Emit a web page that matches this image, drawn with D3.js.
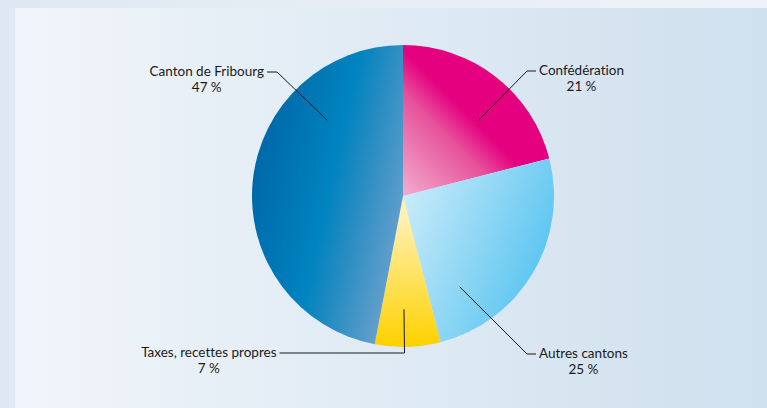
<!DOCTYPE html>
<html>
<head>
<meta charset="utf-8">
<script src="https://cdn.jsdelivr.net/npm/d3@7"></script>
<style>
  html, body { margin: 0; padding: 0; }
  svg { display: block; }
  text { font-family: Lato, "Open Sans", sans-serif; font-size: 13.5px; fill: #1a1a1a; font-variant-ligatures: none; }
</style>
</head>
<body>
<svg id="chart" width="767" height="408"></svg>
<script>
// Financing shares (percent)
const categories = ["Confédération", "Autres cantons", "Taxes, recettes propres", "Canton de Fribourg"];
const shares = [21, 25, 7, 47];

// Leader-line layout per slice: anchor (angle in degrees clockwise from top, radius fraction),
// elbow offset from the pie centre, horizontal run length and side.
const leaderAngle = [45, 148, 179.5, 315];
const leaderRadius = [0.71, 0.71, 0.75, 0.71];
const elbowOffset = [[124, -125], [124, 158], [1.5, 157], [-126, -124]];
const runLength = [9, 9, -125, -10];

const width = 767, height = 408;
const cx = 403, cy = 196, radius = 151;

const svg = d3.select("#chart");
const defs = svg.append("defs");

// Background: outer frame and inner panel gradients
const frameGrad = defs.append("linearGradient").attr("id", "frame")
  .attr("x1", "0").attr("x2", "1").attr("y1", "0").attr("y2", "0");
frameGrad.append("stop").attr("offset", "0").attr("stop-color", "#dfe8f2");
frameGrad.append("stop").attr("offset", "1").attr("stop-color", "#eef3f8");

const panelGrad = defs.append("linearGradient").attr("id", "panel")
  .attr("x1", "0").attr("x2", "1").attr("y1", "0").attr("y2", "0");
panelGrad.append("stop").attr("offset", "0").attr("stop-color", "#f0f5fa");
panelGrad.append("stop").attr("offset", "1").attr("stop-color", "#cfe0ee");

svg.append("rect").attr("width", width).attr("height", height).attr("fill", "url(#frame)");
svg.append("rect").attr("x", 15).attr("y", 8).attr("width", width - 15).attr("height", height - 8)
  .attr("fill", "url(#panel)");

// Slice gradients, in the pie group's coordinates (origin at the pie centre)
const sliceGradients = [
  { id: "g0", p1: [-8, 18], p2: [100, -90], stops: [[0, "#f6c4da"], [0.6, "#e6529b"], [0.8, "#e4007f"], [1, "#e4007f"]] },
  { id: "g1", p1: [5, -10], p2: [150, 50], stops: [[0, "#c9ebfa"], [1, "#5cc5f0"]] },
  { id: "g2", p1: [0, 20], p2: [0, 150], stops: [[0, "#fff1b4"], [1, "#ffd100"]] },
  { id: "g3", p1: [-150, -30], p2: [5, 5], stops: [[0, "#0068a9"], [0.5, "#0084bf"], [0.65, "#1f8ac1"], [1, "#649fcc"]] }
];
sliceGradients.forEach(g => {
  const lg = defs.append("linearGradient").attr("id", g.id)
    .attr("gradientUnits", "userSpaceOnUse")
    .attr("x1", g.p1[0]).attr("y1", g.p1[1])
    .attr("x2", g.p2[0]).attr("y2", g.p2[1]);
  g.stops.forEach(s => lg.append("stop").attr("offset", s[0]).attr("stop-color", s[1]));
});

const data = categories.map((c, i) => ({ name: c, value: shares[i], i }));

const pie = d3.pie().value(d => d.value).sort(null);
const arc = d3.arc().innerRadius(0).outerRadius(radius);

const g = svg.append("g").attr("transform", `translate(${cx},${cy})`);
g.selectAll("path.slice")
  .data(pie(data))
  .join("path")
  .attr("class", "slice")
  .attr("d", arc)
  .attr("fill", d => `url(#${sliceGradients[d.data.i].id})`);

// Leader lines and labels
const rad = d3.scaleLinear().domain([0, 1]).range([0, radius]);
data.forEach((d, i) => {
  const a = leaderAngle[i] * Math.PI / 180;
  const r = rad(leaderRadius[i]);
  const ax = Math.sin(a) * r, ay = -Math.cos(a) * r;
  const [ex, ey] = elbowOffset[i];
  const hx = ex + runLength[i];
  g.append("path")
    .attr("d", d3.line()([[ax, ay], [ex, ey], [hx, ey]]))
    .attr("fill", "none").attr("stroke", "#1a1a1a").attr("stroke-width", 1);

  const leftSide = runLength[i] < 0;
  const tx = hx + (leftSide ? -3 : 3);
  const line1 = g.append("text")
    .attr("x", tx).attr("y", ey + 3.5)
    .attr("text-anchor", leftSide ? "end" : "start")
    .text(d.name);
  const w = line1.node().getComputedTextLength();
  const mid = leftSide ? tx - w / 2 : tx + w / 2;
  g.append("text")
    .attr("x", mid).attr("y", ey + 19.5)
    .attr("text-anchor", "middle")
    .text(d.value + "\u202F%");
});
</script>
</body>
</html>
